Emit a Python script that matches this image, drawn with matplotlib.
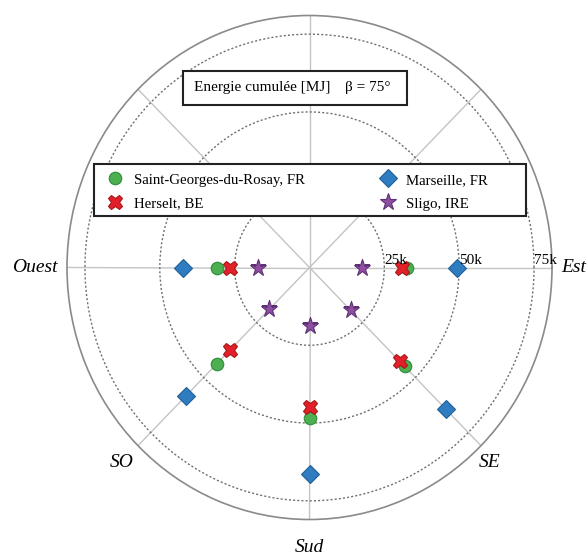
import numpy as np
import matplotlib
matplotlib.use('Agg')
import matplotlib.pyplot as plt
from matplotlib.patches import Rectangle

plt.rcParams['font.family'] = ['Liberation Serif', 'DejaVu Serif']

# directions (angle in degrees, 0 = East, counter-clockwise)
directions = ['Est', 'SE', 'Sud', 'SO', 'Ouest']
angles_deg = [0, -45, -90, -135, 180]

# cumulated energy [k MJ]
saint_georges = [32.7, 45.0, 48.4, 43.7, 30.9]
herselt = [30.9, 42.6, 44.7, 37.4, 26.5]
marseille = [49.2, 64.4, 66.5, 58.3, 42.3]
sligo = [17.5, 19.5, 18.9, 18.9, 17.1]

r_ticks = [25, 50, 75]
r_tick_labels = ['25k', '50k', '75k']
r_max = 81

W, H = 588, 559
fig = plt.figure(figsize=(W / 100, H / 100), dpi=100)

# center (309.5, 267.5) px, radii 242.5 x 252 px -> slightly stretched circle
ax = fig.add_axes([67 / W, 1 - 519.5 / H, 485 / W, 504 / H], projection='polar')
ax.set_aspect('auto')

theta = np.deg2rad(angles_deg)
series = [
    ('Saint-Georges-du-Rosay, FR', saint_georges, dict(marker='o', ms=9, color='#4CAF50', mec='#2E8B3A')),
    ('Herselt, BE', herselt, dict(marker='X', ms=10.5, color='#E3202A', mec='#A81818')),
    ('Marseille, FR', marseille, dict(marker='D', ms=9, color='#2F7CC0', mec='#1F5F98')),
    ('Sligo, IRE', sligo, dict(marker='*', ms=12.5, color='#8E4FA3', mec='#5E2F72')),
]
handles = {}
for name, vals, style in series:
    h, = ax.plot(theta, vals, linestyle='none', mew=0.8, zorder=5, label=name, **style)
    handles[name] = h

# grids
ax.set_ylim(0, r_max)
ax.set_yticks(r_ticks)
ax.set_yticklabels([''] * len(r_ticks))
ax.set_xticks(np.deg2rad(np.arange(0, 360, 45)))
ax.set_xticklabels([''] * 8)
ax.xaxis.grid(True, color='#c4c4c4', lw=1.0, ls='-')
ax.yaxis.grid(True, color='#707070', lw=1.0, ls=(0, (1.5, 1.5)))
ax.spines['polar'].set_color('#8a8a8a')
ax.spines['polar'].set_linewidth(1.2)

for r, lab in zip(r_ticks, r_tick_labels):
    ax.text(0, r, lab, ha='left', va='bottom', fontsize=11, zorder=6)

# direction names
offsets = {'Est': ((7, 0), 'left'), 'SE': ((6, -12), 'center'), 'Sud': ((0, -20.5), 'center'),
           'SO': ((-12, -12), 'center'), 'Ouest': ((-7, 0), 'right')}
for name, a in zip(directions, angles_deg):
    off, ha = offsets[name]
    ax.annotate(name, xy=(np.deg2rad(a), r_max), xytext=off, textcoords='offset points',
                ha=ha, va='center', fontsize=14, style='italic', annotation_clip=False)

# title box
fig.patches.append(Rectangle((182.7 / W, 1 - 105 / H), 224.3 / W, 34 / H, transform=fig.transFigure,
                             facecolor='white', edgecolor='#222222', lw=1.5, zorder=10))
fig.text(194 / W, 1 - 88 / H, 'Energie cumulée [MJ]', ha='left', va='center', fontsize=11, zorder=11)
fig.text(345 / W, 1 - 88 / H, 'β = 75°', ha='left', va='center', fontsize=11, zorder=11)

# legend box
fig.patches.append(Rectangle((94 / W, 1 - 216 / H), 432 / W, 52 / H, transform=fig.transFigure,
                             facecolor='white', edgecolor='#222222', lw=1.5, zorder=10))
order = ['Saint-Georges-du-Rosay, FR', 'Herselt, BE', 'Marseille, FR', 'Sligo, IRE']
leg = fig.legend([handles[n] for n in order], order, ncol=2, loc='upper left',
                 bbox_to_anchor=(91 / W, 1 - 164 / H), borderaxespad=0, borderpad=0.62,
                 frameon=False, fontsize=10.75, handlelength=2, handletextpad=0.25,
                 columnspacing=4.55, labelspacing=0.7)
leg.set_zorder(12)

fig.savefig('out.png', dpi=100)
